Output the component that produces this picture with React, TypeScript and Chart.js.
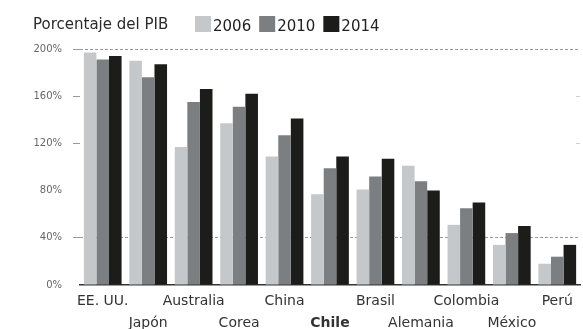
import React, { useEffect, useRef } from "react";
import { Chart, registerables } from "chart.js";

Chart.register(...registerables);

const categories = ["EE. UU.", "Japón", "Australia", "Corea", "China", "Chile", "Brasil", "Alemania", "Colombia", "México", "Perú"];
const years = ["2006", "2010", "2014"];
const values2006 = [197, 190, 117, 137, 109, 77, 81, 101, 51, 34, 18];
const values2010 = [191, 176, 155, 151, 127, 99, 92, 88, 65, 44, 24];
const values2014 = [194, 187, 166, 162, 141, 109, 107, 80, 70, 50, 34];
const yTickValues = [0, 40, 80, 120, 160, 200];
const titleText = "Porcentaje del PIB";
const highlighted = "Chile";

const COLORS = ["#c5c8cb", "#7c7f82", "#1c1c1a"];
const FONT = '"DejaVu Sans", sans-serif';

const headerPlugin = {
  id: "header",
  afterDraw(chart: any) {
    const ctx = chart.ctx;
    ctx.save();
    ctx.textBaseline = "alphabetic";
    ctx.textAlign = "left";
    ctx.font = `15px ${FONT}`;
    ctx.fillStyle = "#2a2a2a";
    ctx.fillText(titleText, 33, 28.5);
    let x = 195;
    chart.data.datasets.forEach((ds: any) => {
      ctx.fillStyle = ds.backgroundColor;
      ctx.fillRect(x, 16, 16, 16);
      ctx.fillStyle = "#222";
      ctx.fillText(ds.label, x + 18, 31);
      x += 18 + ctx.measureText(ds.label).width + 8;
    });
    // small right-side tick marks
    const y = chart.scales.y;
    const ca = chart.chartArea;
    ctx.strokeStyle = "#cfcfcf";
    ctx.lineWidth = 1;
    [160, 120].forEach((v) => {
      const py = Math.round(y.getPixelForValue(v)) + 0.5;
      ctx.beginPath();
      ctx.moveTo(ca.right - 4, py);
      ctx.lineTo(ca.right, py);
      ctx.stroke();
    });
    ctx.restore();
  },
};

export default function App() {
  const ref = useRef<HTMLCanvasElement>(null);
  useEffect(() => {
    if (!ref.current) return;
    const chart = new Chart(ref.current, {
      type: "bar",
      data: {
        labels: categories,
        datasets: [values2006, values2010, values2014].map((d, i) => ({
          label: years[i],
          data: d,
          backgroundColor: COLORS[i],
          borderWidth: 0,
          categoryPercentage: 0.83,
          barPercentage: 1,
        })),
      },
      options: {
        responsive: false,
        animation: false,
        layout: { padding: { left: 0, top: 49, right: 3, bottom: 0 } },
        plugins: { legend: { display: false }, tooltip: { enabled: false }, title: { display: false } },
        scales: {
          x: {
            offset: true,
            grid: { display: false },
            border: { display: true, color: "#333", width: 1.5 },
            afterFit: (axis: any) => {
              axis.height = 44;
            },
            ticks: {
              autoSkip: false,
              maxRotation: 0,
              minRotation: 0,
              padding: -2,
              color: "#333",
              font: (ctx: any) => ({
                family: FONT,
                size: 14,
                lineHeight: 1.55,
                weight: categories[ctx.index] === highlighted ? "bold" : "normal",
              }),
              callback: (_v: any, i: number) => (i % 2 === 0 ? [categories[i], ""] : ["", categories[i]]),
            },
          },
          y: {
            min: 0,
            max: 200,
            afterBuildTicks: (axis: any) => {
              axis.ticks = yTickValues.map((v) => ({ value: v }));
            },
            afterFit: (axis: any) => {
              axis.width = 80;
            },
            border: { display: false, dash: [3, 2] },
            grid: {
              drawTicks: true,
              tickLength: 7,
              tickBorderDash: [],
              lineWidth: 1,
              color: (ctx: any) => (ctx.tick && (ctx.tick.value === 200 || ctx.tick.value === 40) ? "#9a9a9a" : "transparent"),
              tickColor: (ctx: any) => (ctx.tick && [40, 120, 160, 200].includes(ctx.tick.value) ? "#9a9a9a" : "transparent"),
            },
            ticks: {
              padding: 11,
              color: "#666",
              font: { family: FONT, size: 10 },
              callback: (v: any) => `${v}%`,
            },
          },
        },
      },
      plugins: [headerPlugin],
    });
    return () => chart.destroy();
  }, []);
  return (
    <div style={{ position: "fixed", left: 0, top: 0, width: 583, height: 329, background: "#fff", overflow: "hidden" }}>
      <canvas ref={ref} width={583} height={329} style={{ display: "block", width: 583, height: 329 }} />
    </div>
  );
}
